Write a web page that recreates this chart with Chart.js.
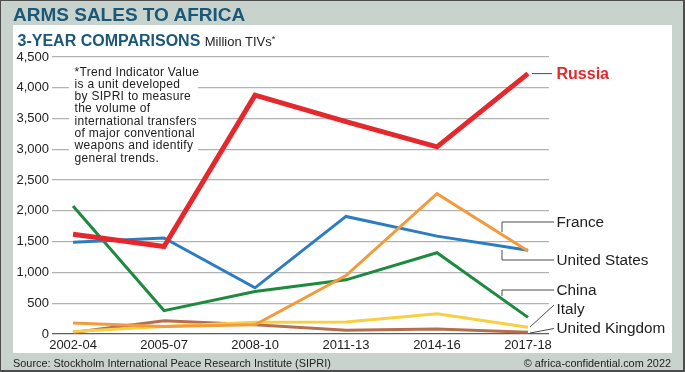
<!DOCTYPE html>
<html>
<head>
<meta charset="utf-8">
<script src="https://cdn.jsdelivr.net/npm/chart.js@4/dist/chart.umd.min.js"></script>
<style>
  html, body { margin: 0; padding: 0; }
  body { width: 685px; height: 372px; overflow: hidden; font-family: "Liberation Sans", Arial, sans-serif; }
  #frame {
    position: relative; width: 685px; height: 372px; box-sizing: border-box;
    background: #c9d3cd; border: 1px solid #4d4d4d; border-right-width: 2px; border-bottom-width: 2px;
  }
  #panel { position: absolute; left: 12px; top: 24px; width: 659px; height: 328px; background: #fff; }
  #chart { position: absolute; left: -1px; top: -1px; }
  .title { position: absolute; left: 12px; top: 3.5px; font-size: 19px; line-height: 19px; font-weight: bold; color: #1b5878; white-space: nowrap; }
  .subtitle { position: absolute; left: 16.5px; top: 29.5px; font-size: 16px; line-height: 16px; font-weight: bold; color: #1b5878; white-space: nowrap; }
  .subtitle span { font-size: 13px; font-weight: normal; color: #222; }
  .subtitle sup { font-size: 9px; vertical-align: 4px; }
  .note {
    position: absolute; left: 67.5px; top: 63px; width: 129.5px; height: 101px; box-sizing: border-box;
    background: #fff; padding: 1.5px 0 0 6px; font-size: 12px; line-height: 12.3px; letter-spacing: 0.3px;
    color: #222; white-space: nowrap;
  }
  .foot { position: absolute; top: 355px; font-size: 10.9px; line-height: 14px; color: #222; white-space: nowrap; }
</style>
</head>
<body>
<div id="frame">
  <div id="panel"></div>
  <canvas id="chart" width="685" height="372"></canvas>
  <div class="title">ARMS SALES TO AFRICA</div>
  <div class="subtitle">3-YEAR COMPARISONS <span>Million TIVs<sup>*</sup></span></div>
  <div class="note">*Trend Indicator Value<br>is a unit developed<br>by SIPRI to measure<br>the volume of<br>international transfers<br>of major conventional<br>weapons and identify<br>general trends.</div>
  <div class="foot" style="left:12px">Source: Stockholm International Peace Research Institute (SIPRI)</div>
  <div class="foot" style="right:12px">© africa-confidential.com 2022</div>
</div>
<script>
// 3-year periods
const periods = ["2002-04", "2005-07", "2008-10", "2011-13", "2014-16", "2017-18"];

// million TIVs
const russia        = [1620, 1420, 3880, 3450, 3040, 4230];
const france        = [180, 120, 150, 950, 2280, 1350];
const unitedStates  = [1490, 1560, 750, 1910, 1590, 1360];
const china         = [2080, 380, 690, 880, 1320, 270];
const italy         = [40, 120, 190, 195, 330, 110];
const unitedKingdom = [25, 215, 150, 60, 80, 30];

const yTicks = [0, 500, 1000, 1500, 2000, 2500, 3000, 3500, 4000, 4500];

function toPoints(values) {
    return values.map(function (v, i) { return {x: i, y: v}; });
}

function makeSet(label, values, color, width) {
    return {
        label: label,
        data: toPoints(values),
        borderColor: color,
        backgroundColor: color,
        borderWidth: width,
        pointRadius: 0,
        tension: 0,
        fill: false
    };
}

// first dataset ends up on top
const datasets = [
    makeSet("Russia", russia, "#e4282c", 5),
    makeSet("France", france, "#f39b3c", 3),
    makeSet("United States", unitedStates, "#2c7cc1", 3),
    makeSet("China", china, "#1e8a3f", 3),
    makeSet("Italy", italy, "#f7cf42", 3),
    makeSet("United Kingdom", unitedKingdom, "#b56f4f", 3)
];

// labels at the right end with their leader lines
const endLabels = {
    id: "endLabels",
    afterDraw(chart) {
        const ctx = chart.ctx;
        const y = chart.scales.y;
        const ry = y.getPixelForValue(russia[russia.length - 1]);

        ctx.save();
        ctx.strokeStyle = "#4a4a4a";
        ctx.lineWidth = 1;
        ctx.beginPath();
        // Russia
        ctx.moveTo(532, ry); ctx.lineTo(552, ry);
        // France bracket
        ctx.moveTo(502, 232); ctx.lineTo(502, 222); ctx.lineTo(554, 222);
        // United States bracket
        ctx.moveTo(502, 250); ctx.lineTo(502, 260); ctx.lineTo(554, 260);
        // China bracket
        ctx.moveTo(502, 296); ctx.lineTo(502, 290); ctx.lineTo(554, 290);
        // Italy
        ctx.moveTo(530, 327); ctx.lineTo(554, 305);
        // United Kingdom
        ctx.moveTo(530, 333); ctx.lineTo(554, 328.5);
        ctx.stroke();

        ctx.textBaseline = "middle";
        ctx.textAlign = "left";
        ctx.fillStyle = "#e4282c";
        ctx.font = "bold 16px 'Liberation Sans', Arial, sans-serif";
        ctx.fillText("Russia", 556.5, ry + 0.5);

        ctx.fillStyle = "#222";
        ctx.font = "15.3px 'Liberation Sans', Arial, sans-serif";
        ctx.fillText("France", 556.5, 222.5);
        ctx.fillText("United States", 556.5, 260.5);
        ctx.fillText("China", 556.5, 290.5);
        ctx.fillText("Italy", 556.5, 310);
        ctx.fillText("United Kingdom", 556.5, 329);
        ctx.restore();
    }
};

new Chart(document.getElementById("chart"), {
    type: "line",
    data: { datasets: datasets },
    options: {
        responsive: false,
        animation: false,
        devicePixelRatio: 1,
        layout: { padding: { left: 0, right: 136, top: 57, bottom: 17 } },
        plugins: { legend: { display: false }, tooltip: { enabled: false } },
        scales: {
            x: {
                type: "linear",
                min: -0.231,
                max: 5.231,
                afterBuildTicks: function (axis) {
                    axis.ticks = periods.map(function (p, i) { return {value: i}; });
                },
                afterFit: function (axis) { axis.height = 21; },
                grid: { display: false, drawTicks: false },
                border: { display: false },
                ticks: {
                    padding: 4,
                    autoSkip: false,
                    maxRotation: 0,
                    color: "#222",
                    font: { family: "'Liberation Sans', Arial, sans-serif", size: 13 },
                    callback: function (v) { return periods[v]; }
                }
            },
            y: {
                min: 0,
                max: 4500,
                afterBuildTicks: function (axis) {
                    axis.ticks = yTicks.map(function (v) { return {value: v}; });
                },
                afterFit: function (axis) { axis.width = 52; },
                grid: {
                    drawTicks: false,
                    lineWidth: 1.3,
                    color: function (c) { return c.tick && c.tick.value === 0 ? "#5e5e5e" : "#b3b3b3"; }
                },
                border: { display: false },
                ticks: {
                    padding: 3,
                    color: "#222",
                    font: { family: "'Liberation Sans', Arial, sans-serif", size: 13 },
                    callback: function (v) { return v.toLocaleString("en-US"); }
                }
            }
        }
    },
    plugins: [endLabels]
});
</script>
</body>
</html>
